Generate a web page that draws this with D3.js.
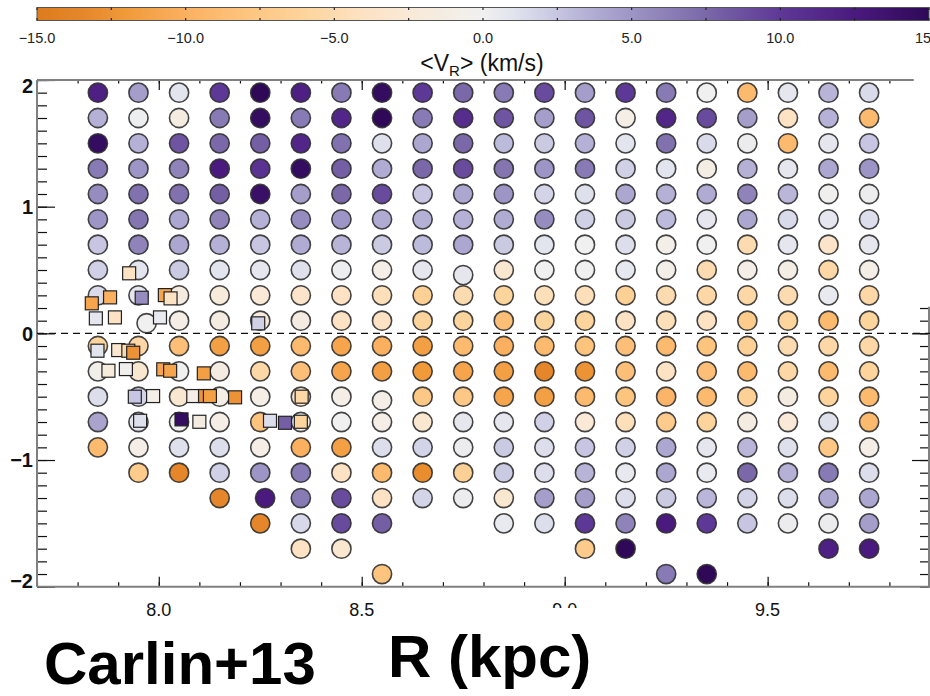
<!DOCTYPE html>
<html><head><meta charset="utf-8">
<script src="https://cdn.jsdelivr.net/npm/d3@7"></script>
<style>
body{margin:0;background:#fff}
svg{display:block}
text{font-family:"Liberation Sans",Arial,Helvetica,sans-serif}
</style>
</head><body><svg id="c" width="930" height="696"></svg>
<script>
// ---------------- DATA ----------------
const R_BINS = [7.85,7.95,8.05,8.15,8.25,8.35,8.45,8.55,8.65,8.75,8.85,8.95,9.05,9.15,9.25,9.35,9.45,9.55,9.65,9.75];
const Z_BINS = [1.9,1.7,1.5,1.3,1.1,0.9,0.7,0.5,0.3,0.1,-0.1,-0.3,-0.5,-0.7,-0.9,-1.1,-1.3,-1.5,-1.7,-1.9];

// <V_R> (km/s) per R column, top (z=1.9) to bottom (z=-1.9); null = no bin
const vr_785 = [12,3.5,14.5,6.5,5.5,5,2.5,2,1.5,null,-6,-0.5,1.3,4.2,-9,null,null,null,null,null];
const vr_795 = [4.5,0.2,3.5,5,7,6.8,6,1,0.8,0,-5.5,-3,1.8,0.8,-1,-7,null,null,null,null];
const vr_805 = [1,-1.5,8.5,6,7,4,4,2.3,-1.5,-1,-8.5,0,-3,0,1.2,-13.5,null,null,null,null];
const vr_815 = [10,6.5,7.5,12.5,8,6,3.5,1,-2,-1.5,-11.5,-1.5,-1,-1,1.3,2,-13.5,null,null,null];
const vr_825 = [15,14.5,8,10.5,14,3.5,2.5,0.8,-2.5,-2,-11.5,-5.5,-1,-8,-1,5,12.5,-13.5,null,null];
const vr_835 = [12,6.5,11.5,14.5,4.5,5.5,3.8,1.2,-3.5,-1.5,-9,-8.5,-3,0,-10,6.5,6.5,1.6,-4,null];
const vr_845 = [6.5,11.5,7,8,7.5,5,3.3,0.2,-4,-4,-11,-11,-1,0,-11.5,-4,9,9,-3,null];
const vr_855 = [14.5,15,1.2,3.8,9,3.8,2.3,-1,-4.5,-4,-10,-11.5,-1,-1,1.3,-9,-4,8,null,-8];
const vr_865 = [10,6.5,4,7.5,2.5,3.5,3,0.8,-6.5,-6,-11.5,-12,-7.5,-3,1.8,-13,1.8,null,null,null];
const vr_875 = [7.5,11,7.5,9,4,3.5,4,0.8,-5,-6,-9,-11,-7.5,0.8,0.3,-6.5,0.3,null,null,null];
const vr_885 = [6.5,8.5,3,6.8,5,3.8,2.3,-3,-6,-8.5,-10,-11.5,-11,0.8,2.3,2.3,-3,0.5,null,null];
const vr_895 = [9,4.5,2.3,5,1.8,5.5,1,0,-4.5,-6,-9,-13.5,-11.5,2,1.3,1.3,4.5,1.3,null,null];
const vr_905 = [4.5,8.5,3.5,6.5,1.2,2,0,0,-4.5,-6,-8,-12.5,-9,-2.5,2.5,3.3,4.5,10,-7,null];
const vr_915 = [10,-1,1,2,4,2.3,1.3,0.7,-6.5,-4,-8.5,-8.5,-8,-4.5,2,0.6,1.3,6,15,null];
const vr_925 = [6.5,11.5,7,1,3.5,3,-0.8,-0.8,-5,-4.5,-9,-4,-9.5,-7,4,4,2.3,12.5,null,6.5];
const vr_935 = [0,9,1.5,-1.2,3.8,0.8,0,-5,-5.5,-4,-8,-8.5,-9,-6,0.8,0.5,3.2,10,null,15];
const vr_945 = [-9,4.5,0.3,3.5,6,4,-5,-1,-5.5,-7,-6.5,-9,-6.5,-1.5,3.2,7.5,1.8,2.5,null,null];
const vr_955 = [0.8,-4,-9,0.8,3.2,1.5,0.8,-1.2,-5,-6,-5,-5.5,-1.5,-2.5,1.2,3.5,1.3,0.3,null,null];
const vr_965 = [3.3,3.4,0.8,4,-0.3,0.8,-3.5,-5.5,0.5,-9,-5.5,-9,-6,1.2,-7.5,6.5,4,0.3,12,null];
const vr_975 = [1.5,-9,2.5,5,0.3,1.3,0.8,-1,-5.5,-6,-5.5,-6,-9,-9,-1,1.3,4,4.5,12.5,null];
const VR_COLUMNS = [vr_785,vr_795,vr_805,vr_815,vr_825,vr_835,vr_845,vr_855,vr_865,vr_875,
                    vr_885,vr_895,vr_905,vr_915,vr_925,vr_935,vr_945,vr_955,vr_965,vr_975];

// bins whose measured centre differs from the nominal grid (R, z nominal -> R, z measured)
const binShiftNominal = [[7.95,0.1],[8.75,0.5],[8.25,-1.3],[8.55,-0.5]];
const binShiftMeasured = [[7.97,0.08],[8.75,0.46],[8.262,-1.3],[8.55,-0.53]];

// Carlin+13 squares
const sqR = [7.927,7.835,7.880,7.958,8.015,8.029,7.845,7.892,8.003,8.245,
             7.849,7.900,7.925,7.937,7.876,7.919,8.011,8.028,8.111,
             7.941,7.986,8.085,8.114,8.126,8.188,
             7.954,8.056,8.100,8.274,8.311,8.352,8.350];
const sqZ = [0.474,0.237,0.284,0.281,0.302,0.276,0.118,0.126,0.126,0.079,
             -0.137,-0.132,-0.137,-0.153,-0.295,-0.282,-0.284,-0.295,-0.316,
             -0.500,-0.495,-0.495,-0.495,-0.495,-0.505,
             -0.690,-0.679,-0.698,-0.690,-0.706,-0.500,-0.698];
const sqV = [-4,-11,-10,5.5,-11,-4,0.8,-4,0.5,2,
             1,-3,-5,-12.5,-2,-0.3,-11,-11,-11.5,
             2.5,-1,-1,-12.5,-11.5,-12.5,
             1.2,14.5,-1.5,1.3,8,-5.5,-6];

// colour bar
const CB_STOPS = [-15,-13.5,-12,-10,-8,-6,-4,-2,0,1,2,3.5,5,7.5,10,12.5,15];
const CB_COLORS = ["#dd7c1e","#e5862a","#f09a3a","#fbb060","#fdc47e","#fdd49c","#fde2c4","#f7ebdc",
                   "#f0f0f0","#e2e4ee","#d0d0e6","#b4b0d6","#9d95c5","#7a68a8","#5e3896","#4a1a7e","#2f0858"];
const CB_LABELS = [-15,-10,-5,0,5,10,15];
const CB_MINOR = [-15,-12.5,-10,-7.5,-5,-2.5,0,2.5,5,7.5,10,12.5,15];
const X_LABELS = [8.0,8.5,9.0,9.5];
const Y_LABELS = [2,1,0,-1,-2];

// ---------------- DRAW ----------------
const svg = d3.select("#c");
const x = d3.scaleLinear().domain([7.7,9.9]).range([37,930]);
const y = d3.scaleLinear().domain([-2,2]).range([586.7,80]);
const color = d3.scaleLinear().domain(CB_STOPS).range(CB_COLORS).interpolate(d3.interpolateRgb).clamp(true);
const cb = d3.scaleLinear().domain([-15,15]).range([37,929]);

// colour bar
const defs = svg.append("defs");
const grad = defs.append("linearGradient").attr("id","cbg").attr("x1","0%").attr("x2","100%");
d3.range(0,61).forEach(i=>{
  const v = -15 + i*0.5;
  grad.append("stop").attr("offset",(i/60*100)+"%").attr("stop-color",color(v));
});
svg.append("rect").attr("x",cb(-15)).attr("y",7.5).attr("width",cb(15)-cb(-15)).attr("height",13)
  .attr("fill","url(#cbg)").attr("stroke","#555").attr("stroke-width",1);
svg.append("g").selectAll("line.t").data(CB_MINOR).join("line")
  .attr("x1",d=>cb(d)).attr("x2",d=>cb(d)).attr("y1",7.5).attr("y2",10)
  .attr("stroke","#222").attr("stroke-width",1.2);
svg.append("g").selectAll("line.b").data(CB_MINOR).join("line")
  .attr("x1",d=>cb(d)).attr("x2",d=>cb(d)).attr("y1",18).attr("y2",20.5)
  .attr("stroke","#222").attr("stroke-width",1.2);
const fmt1 = v => (v<0?"\u2212":"") + Math.abs(v).toFixed(1);
svg.append("g").selectAll("text").data(CB_LABELS).join("text")
  .attr("x",d=>cb(d)).attr("y",43).attr("text-anchor","middle")
  .attr("font-size",14.5).attr("fill","#222").text(fmt1);
const title = svg.append("text").attr("x",482).attr("y",71).attr("text-anchor","middle")
  .attr("font-size",23).attr("fill","#111");
title.append("tspan").text("<V");
title.append("tspan").attr("font-size",15).attr("dy",5).text("R");
title.append("tspan").attr("dy",-5).text("> (km/s)");

// axes ticks
const minorZ = d3.range(-20,21).map(i=>i/10);
const minorR = d3.range(77,100).map(i=>i/10);
const majorR = [8.0,8.5,9.0,9.5];
function styleAxis(g){ g.select(".domain").remove(); g.selectAll("line").attr("stroke","#111").attr("stroke-width",1.2); }
svg.append("g").attr("transform","translate(37,0)").call(d3.axisRight(y).tickValues(minorZ).tickSize(10).tickFormat("")).call(styleAxis);
svg.append("g").attr("transform","translate(37,0)").call(d3.axisRight(y).tickValues(Y_LABELS).tickSize(18).tickFormat("")).call(styleAxis);
svg.append("g").attr("transform","translate(929,0)").call(d3.axisLeft(y).tickValues(minorZ.filter(v=>v<=0.2)).tickSize(9).tickFormat("")).call(styleAxis);
svg.append("g").attr("transform","translate(929,0)").call(d3.axisLeft(y).tickValues([0,-1]).tickSize(17).tickFormat("")).call(styleAxis);
svg.append("g").attr("transform","translate(0,"+y(-2)+")").call(d3.axisTop(x).tickValues(minorR).tickSize(4.5).tickFormat("")).call(styleAxis);
svg.append("g").attr("transform","translate(0,"+y(-2)+")").call(d3.axisTop(x).tickValues(majorR).tickSize(10).tickFormat("")).call(styleAxis);
svg.append("g").attr("transform","translate(0,"+y(2)+")").call(d3.axisBottom(x).tickValues(minorR.filter(v=>v<9.85)).tickSize(3.5).tickFormat("")).call(styleAxis);
svg.append("g").attr("transform","translate(0,"+y(2)+")").call(d3.axisBottom(x).tickValues(majorR).tickSize(10).tickFormat("")).call(styleAxis);

// frame
const frame = svg.append("g").attr("stroke","#808080").attr("stroke-width",2).attr("fill","none");
frame.append("line").attr("x1",x(7.7)).attr("x2",x(7.7)).attr("y1",y(2)).attr("y2",y(-2));
frame.append("line").attr("x1",x(7.7)).attr("x2",x(9.9)).attr("y1",y(-2)).attr("y2",y(-2));
frame.append("line").attr("x1",x(7.7)).attr("x2",x(9.86)).attr("y1",y(2)).attr("y2",y(2));
frame.append("line").attr("x1",929).attr("x2",929).attr("y1",y(0.21)).attr("y2",y(-2));

// tick labels
const yl = svg.append("g").attr("font-size",20).attr("font-weight","bold").attr("fill","#111");
yl.selectAll("text").data(Y_LABELS).join("text")
  .attr("x",33).attr("text-anchor","end")
  .attr("y",d=>y(d) + (d===2?6:d===-2?-6:0)).attr("dy","0.36em")
  .text(d=>(d<0?"\u2212":"")+Math.abs(d));
svg.append("g").attr("font-size",18).attr("fill","#111").selectAll("text").data(X_LABELS).join("text")
  .attr("x",d=>x(d)).attr("y",616).attr("text-anchor","middle").text(d=>d.toFixed(1));

// zero line
svg.append("line").attr("x1",x(7.7)).attr("x2",x(9.9)).attr("y1",y(0)).attr("y2",y(0))
  .attr("stroke","#111").attr("stroke-width",1.4).attr("stroke-dasharray","7,5");

// circles
const circ = [];
VR_COLUMNS.forEach((col,i)=>{
  col.forEach((v,j)=>{
    if(v===null) return;
    let R = R_BINS[i], z = Z_BINS[j];
    const k = binShiftNominal.findIndex(p=>Math.abs(p[0]-R)<1e-6 && Math.abs(p[1]-z)<1e-6);
    if(k>=0){ R = binShiftMeasured[k][0]; z = binShiftMeasured[k][1]; }
    circ.push({R,z,v});
  });
});
svg.append("g").selectAll("circle").data(circ).join("circle")
  .attr("cx",d=>x(d.R)).attr("cy",d=>y(d.z)).attr("r",9.6)
  .attr("fill",d=>color(d.v)).attr("stroke","#303030").attr("stroke-opacity",0.9).attr("stroke-width",1.6);

// squares
const sq = sqR.map((r,i)=>({R:r,z:sqZ[i],v:sqV[i]}));
const S = 13;
svg.append("g").selectAll("rect").data(sq).join("rect")
  .attr("x",d=>x(d.R)-S/2).attr("y",d=>y(d.z)-S/2).attr("width",S).attr("height",S)
  .attr("fill",d=>color(d.v)).attr("stroke","#222").attr("stroke-width",1.2);

// bottom texts
svg.append("rect").attr("x",384).attr("y",608).attr("width",236).attr("height",88).attr("fill","#fff");
svg.append("text").attr("x",44).attr("y",684).attr("font-size",60).attr("font-weight","bold").attr("fill","#000").text("Carlin+13");
svg.append("text").attr("x",388).attr("y",677).attr("font-size",60).attr("font-weight","bold").attr("fill","#000").text("R (kpc)");
</script>
</body></html>
